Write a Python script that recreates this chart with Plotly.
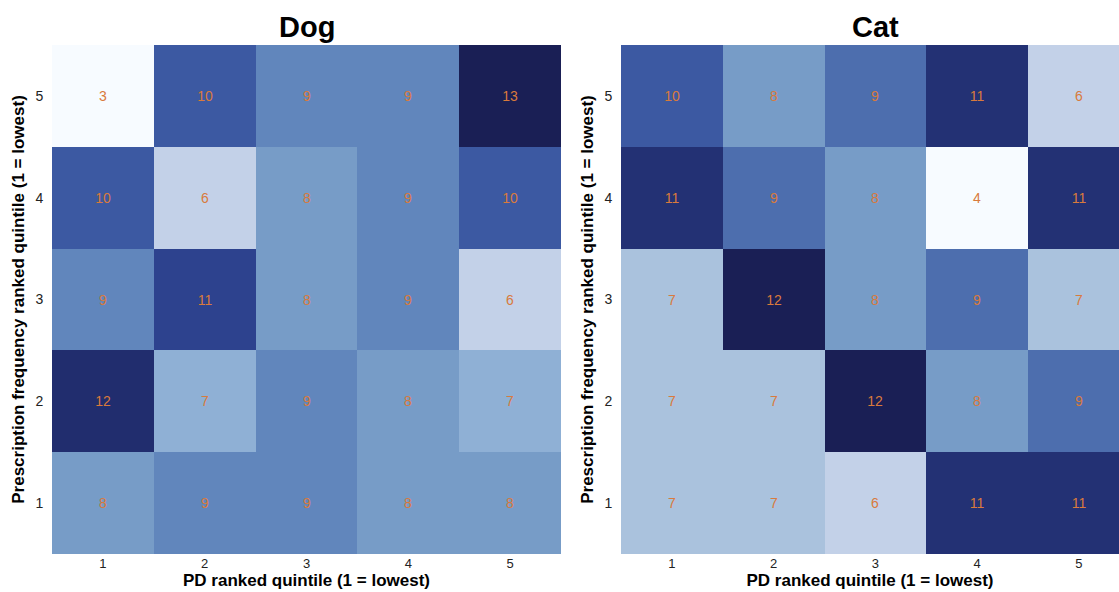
import plotly.graph_objects as go

quintiles = [1, 2, 3, 4, 5]
# rows: y = 1..5 (bottom to top), columns x = 1..5
dog_values = [
    [8, 9, 9, 8, 8],
    [12, 7, 9, 8, 7],
    [9, 11, 8, 9, 6],
    [10, 6, 8, 9, 10],
    [3, 10, 9, 9, 13],
]
cat_values = [
    [7, 7, 6, 11, 11],
    [7, 7, 12, 8, 9],
    [7, 12, 8, 9, 7],
    [11, 9, 8, 4, 11],
    [10, 8, 9, 11, 6],
]
titles = ["Dog", "Cat"]
x_title = "PD ranked quintile (1 = lowest)"
y_title = "Prescription frequency ranked quintile (1 = lowest)"

dog_scale = [
    [0.0, "#f7fbff"], [0.3, "#c3d1e8"], [0.4, "#8fb0d5"], [0.5, "#779cc7"],
    [0.6, "#6186bc"], [0.7, "#3c59a2"], [0.8, "#2d428e"], [0.9, "#212d6e"],
    [1.0, "#1a1f55"],
]
cat_scale = [
    [0.0, "#f7fbff"], [0.25, "#c3d1e8"], [0.375, "#aac2dd"], [0.5, "#779cc7"],
    [0.625, "#4d6eae"], [0.75, "#3c59a2"], [0.875, "#233174"], [1.0, "#1a1f55"],
]

W, H = 1119, 592
font_family = "Liberation Sans, Arial, sans-serif"
text_color = "#d97a3c"

fig = go.Figure()
for i, (vals, cs) in enumerate([(dog_values, dog_scale), (cat_values, cat_scale)]):
    flat = [v for r in vals for v in r]
    fig.add_trace(go.Heatmap(
        z=vals, x=quintiles, y=quintiles,
        colorscale=cs, zmin=min(flat), zmax=max(flat),
        showscale=False,
        text=[[str(v) for v in r] for r in vals],
        texttemplate="%{text}",
        textfont=dict(color=text_color, size=14, family=font_family),
        xaxis="x" if i == 0 else "x2",
        yaxis="y" if i == 0 else "y2",
        hoverinfo="skip",
    ))

cell = 101.75
y_dom = [1 - 554 / H, 1 - 45 / H]
dog_dom = [52 / W, 561 / W]
cat_dom = [621 / W, 1.0]
cat_right = 0.5 + (W - 621) / cell

xaxis_common = dict(
    showgrid=False, zeroline=False, showline=False, ticks="",
    tickfont=dict(size=13, color="#222", family=font_family),
    tickvals=quintiles, ticktext=[str(q) for q in quintiles],
)
yaxis_common = dict(
    showgrid=False, zeroline=False, showline=False,
    ticks="outside", ticklen=5, tickcolor="rgba(0,0,0,0)",
    tickfont=dict(size=14, color="#222", family=font_family),
    tickvals=quintiles, ticktext=[str(q) for q in quintiles],
)
title_font = dict(size=17, color="#000", family=font_family, weight="bold")

fig.update_layout(
    width=W, height=H,
    margin=dict(l=0, r=0, t=0, b=0),
    paper_bgcolor="white", plot_bgcolor="white",
    font=dict(family=font_family),
    xaxis=dict(domain=dog_dom, range=[0.5, 5.5], anchor="y",
               title=dict(text=x_title, font=title_font, standoff=4), **xaxis_common),
    yaxis=dict(domain=y_dom, range=[0.5, 5.5], anchor="x",
               title=dict(text=y_title, font=title_font, standoff=6), **yaxis_common),
    xaxis2=dict(domain=cat_dom, range=[0.5, cat_right], anchor="y2",
                title=dict(text=x_title, font=title_font, standoff=4), **xaxis_common),
    yaxis2=dict(domain=y_dom, range=[0.5, 5.5], anchor="x2",
                title=dict(text=y_title, font=title_font, standoff=6), **yaxis_common),
    showlegend=False,
)

title_centers = [(52 + 561) / 2 / W, (621 + 621 + 5 * cell) / 2 / W]
for t, xc in zip(titles, title_centers):
    fig.add_annotation(
        text=f"<b>{t}</b>", x=xc, y=1 - 27 / H, xref="paper", yref="paper",
        showarrow=False, xanchor="center", yanchor="middle",
        font=dict(size=29, color="#000", family=font_family),
    )

fig.write_html(
    "out.html",
    config={"displayModeBar": False},
    post_script="document.body.style.margin='0';document.body.style.overflow='hidden';",
)
